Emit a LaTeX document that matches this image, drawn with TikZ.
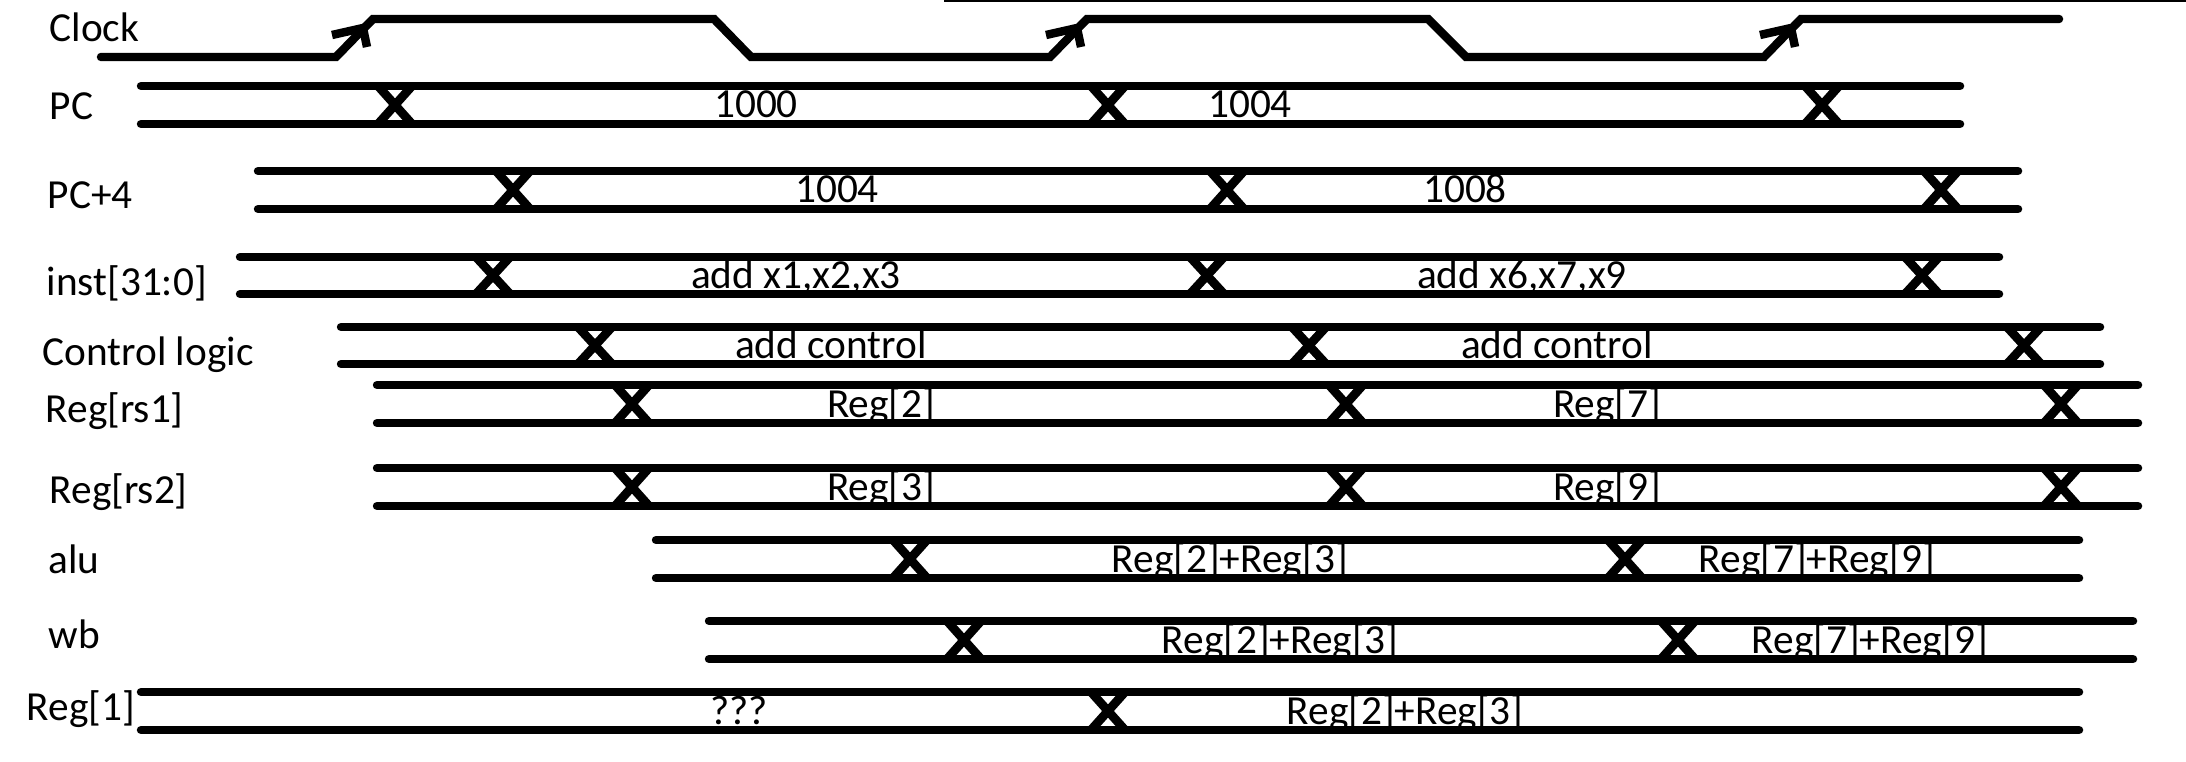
\documentclass[tikz,border=0pt]{standalone}
\usepackage{fontspec}
\setmainfont{Carlito}
\newcommand{\tdbus}[5]{%
  \draw[wave] (#3,#1) -- (#4,#1);
  \draw[wave] (#3,#2) -- (#4,#2);
  \foreach \cx in {#5} {\draw[xmark] (\cx-17,#1) -- (\cx+17,#2) (\cx+17,#1) -- (\cx-17,#2);}
}
\begin{document}
\begin{tikzpicture}[x=0.01cm,y=-0.01cm,
  wave/.style={line width=2.4pt, line cap=round, line join=miter},
  xmark/.style={line width=2.5pt},
  barb/.style={line width=2.4pt, line join=miter},
  lbl/.style={anchor=base west, inner sep=0pt, font=\fontsize{11.75}{14}\selectfont},
  val/.style={anchor=base, inner sep=0pt, font=\fontsize{11.75}{14}\selectfont}]
\useasboundingbox (0,0) rectangle (2186,761);
% thin top rule
\draw[line width=0.6pt] (944,1) -- (2186,1);
% labels
\node[lbl] (lclk) at (49,42) {Clock};
\node[lbl] (lpc) at (49,120) {PC};
\node[lbl] (lpc4) at (47,209) {PC+4};
\node[lbl] (linst) at (46,295) {inst[31:0]};
\node[lbl] (lctl) at (42,365) {Control logic};
\node[lbl] (lrs1) at (45,422) {Reg[rs1]};
\node[lbl] (lrs2) at (49,503) {Reg[rs2]};
\node[lbl] (lalu) at (48,573) {alu};
\node[lbl] (lwb) at (48,648) {wb};
\node[lbl] (lreg1) at (26,720) {Reg[1]};
% clock
\draw[wave] (101,57) -- (336,57) -- (373,19) -- (714,19) -- (751,57) -- (1050,57) -- (1087,19)
  -- (1428,19) -- (1466,57) -- (1764,57) -- (1801,19) -- (2059,19);
\foreach \tx in {363,1077,1791} {\draw[barb] (\tx-31,35) -- (\tx,28) -- (\tx+4,47);}
% buses
\tdbus{86}{124}{141}{1960}{395,1108,1822}
\tdbus{171}{209}{258}{2018}{513,1227,1941}
\tdbus{257}{294}{240}{1999}{493,1207,1922}
\tdbus{327}{364}{341}{2100}{595,1309,2024}
\tdbus{385}{423}{377}{2138}{632,1346,2061}
\tdbus{468}{506}{377}{2138}{632,1346,2061}
\tdbus{540}{578}{656}{2079}{910,1625}
\tdbus{621}{659}{709}{2133}{964,1678}
\tdbus{692}{730}{141}{2079}{1108}
% values
\node[val] (v1) at (756,118) {1000};
\node[val] (v2) at (1250,118) {1004};
\node[val] (v3) at (837,203) {1004};
\node[val] (v4) at (1465,203) {1008};
\node[val] (v5) at (796,288) {add x1,x2,x3};
\node[val] (v6) at (1522,288) {add x6,x7,x9};
\node[val] (v7) at (831,358) {add control};
\node[val] (v8) at (1557,358) {add control};
\node[val] (v9) at (881,417) {Reg[2]};
\node[val] (v10) at (1607,417) {Reg[7]};
\node[val] (v11) at (881,500) {Reg[3]};
\node[val] (v12) at (1607,500) {Reg[9]};
\node[val] (v13) at (1230,572) {Reg[2]+Reg[3]};
\node[val] (v14) at (1817,572) {Reg[7]+Reg[9]};
\node[val] (v15) at (1280,653) {Reg[2]+Reg[3]};
\node[val] (v16) at (1870,653) {Reg[7]+Reg[9]};
\node[val] (v17) at (739,724) {???};
\node[val] (v18) at (1405,724) {Reg[2]+Reg[3]};
\end{tikzpicture}
\end{document}
